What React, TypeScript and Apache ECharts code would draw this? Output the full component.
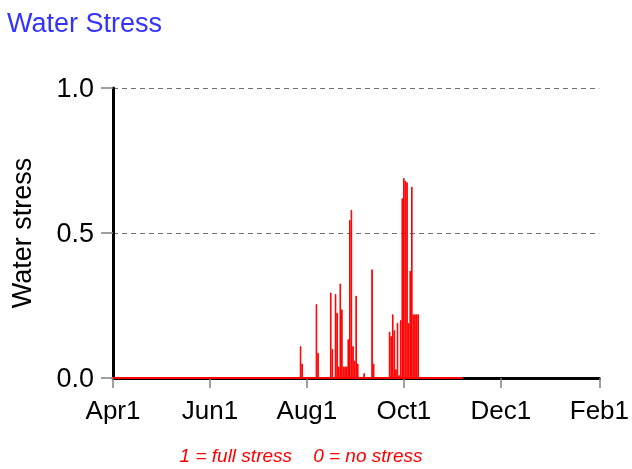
import React, { useEffect, useRef } from "react";
import * as echarts from "echarts";

// Days counted from Apr 1 (day 0) to Feb 1 (day 306)
const totalDays = 306;
const lastSimDay = 220; // simulation ends ~Nov 7
const tickDays = [0, 61, 122, 183, 244, 306];
const tickLabels = ["Apr1", "Jun1", "Aug1", "Oct1", "Dec1", "Feb1"];

const stressDays = [
  118, 119, 128, 129, 137, 138, 140, 141, 142, 143, 144, 145, 146, 147, 148,
  149, 150, 151, 152, 153, 154, 158, 163, 164,
  174, 175, 176, 177, 178, 179, 180, 181, 182, 183, 184, 185, 186, 187, 188,
  189, 190, 191, 192,
];
const stressValues = [
  0.11, 0.05, 0.255, 0.087, 0.295, 0.1, 0.29, 0.225, 0.04, 0.326, 0.237, 0.04,
  0.04, 0.04, 0.134, 0.545, 0.58, 0.11, 0.06, 0.284, 0.05, 0.017, 0.375, 0.05,
  0.16, 0.145, 0.22, 0.165, 0.03, 0.19, 0.01, 0.2, 0.62, 0.69, 0.68, 0.675,
  0.19, 0.37, 0.66, 0.22, 0.22, 0.22, 0.22,
];

const yTicks = [0, 0.5, 1.0];

const FONT = "Liberation Sans, Arial, sans-serif";

export default function App() {
  const ref = useRef<HTMLDivElement>(null);

  useEffect(() => {
    if (!ref.current) return;
    const chart = echarts.init(ref.current, null, { renderer: "svg" });

    const categories: string[] = [];
    for (let d = 0; d <= totalDays; d++) categories.push(String(d));

    const barData: (number | null)[] = categories.map(() => null);
    stressDays.forEach((d, i) => {
      barData[d] = stressValues[i];
    });
    const baseData: (number | null)[] = categories.map((_, d) =>
      d <= lastSimDay ? 0 : null
    );

    const tickSet = new Set(tickDays);

    chart.setOption({
      animation: false,
      title: {
        text: "Water Stress",
        left: 2,
        top: 4,
        textStyle: {
          color: "#3333ff",
          fontFamily: FONT,
          fontSize: 27,
          fontWeight: "normal",
        },
      },
      grid: { left: 104, right: 31, top: 88, bottom: 91 },
      xAxis: {
        type: "category",
        data: categories,
        boundaryGap: false,
        offset: 2,
        axisLine: { show: true, lineStyle: { color: "#000", width: 3 } },
        axisTick: {
          show: true,
          length: 10,
          interval: (i: number) => tickSet.has(i),
          lineStyle: { color: "#808080", width: 1.5 },
        },
        axisLabel: {
          interval: (i: number) => tickSet.has(i),
          formatter: (v: string) => {
            const idx = tickDays.indexOf(Number(v));
            return idx >= 0 ? tickLabels[idx] : "";
          },
          color: "#000",
          fontFamily: FONT,
          fontSize: 26,
          margin: 17,
          showMaxLabel: true,
          showMinLabel: true,
        },
        splitLine: { show: false },
      },
      yAxis: {
        type: "value",
        min: 0,
        max: 1,
        interval: 0.5,
        name: "Water stress",
        nameLocation: "middle",
        nameGap: 78,
        nameTextStyle: { color: "#000", fontFamily: FONT, fontSize: 27 },
        axisLine: { show: true, lineStyle: { color: "#000", width: 3 } },
        axisTick: {
          show: true,
          length: 12,
          lineStyle: { color: "#808080", width: 1.5 },
        },
        axisLabel: {
          color: "#000",
          fontFamily: FONT,
          fontSize: 27,
          margin: 19,
          formatter: (v: number) =>
            yTicks.includes(v) ? v.toFixed(1) : "",
        },
        splitLine: {
          show: true,
          lineStyle: { color: "#707070", type: [5, 4], width: 1.2 },
        },
      },
      series: [
        {
          type: "line",
          data: baseData,
          symbol: "none",
          lineStyle: { color: "#ff0000", width: 2 },
          z: 3,
          silent: true,
        },
        {
          type: "bar",
          data: barData,
          barCategoryGap: "0%",
          barGap: "0%",
          itemStyle: { color: "#ff0000", borderColor: "#ff0000", borderWidth: 1 },
          z: 4,
          silent: true,
        },
      ],
      graphic: [
        {
          type: "text",
          x: 301,
          y: 455,
          style: {
            text: "1 = full stress    0 = no stress",
            fill: "#ff0000",
            fontFamily: FONT,
            fontSize: 19,
            fontStyle: "italic",
            textAlign: "center",
            textVerticalAlign: "middle",
          },
        },
      ],
    });

    return () => chart.dispose();
  }, []);

  return (
    <div
      ref={ref}
      style={{ position: "fixed", left: 0, top: 0, width: 632, height: 469 }}
    />
  );
}
